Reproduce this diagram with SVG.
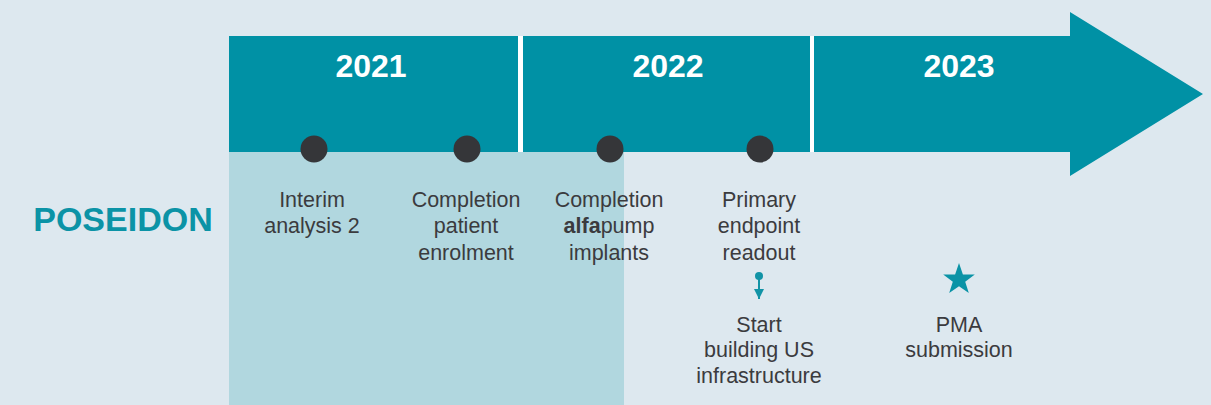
<svg xmlns="http://www.w3.org/2000/svg" width="1211" height="405" viewBox="0 0 1211 405">
<style>
.year{font-family:"Liberation Sans",Arial,sans-serif;font-weight:bold;font-size:32px;fill:#ffffff;text-anchor:middle}
.lbl{font-family:"Liberation Sans",Arial,sans-serif;font-size:21.5px;fill:#3b3b3e;text-anchor:middle}
.dot{fill:#353639}
.div{fill:#ffffff}
</style>
<defs>
<marker id="ah" viewBox="0 0 10 10" refX="10" refY="5" markerWidth="12" markerHeight="10" markerUnits="userSpaceOnUse" orient="auto">
<path d="M0,0 L10,5 L0,10 Z" fill="#1193a6"/>
</marker>
</defs>
<rect x="0" y="0" width="1211" height="405" fill="#dde8ef"/>
<rect id="highlight" x="229" y="152" width="395" height="253" fill="#b1d7df"/>
<g id="timeline-arrow">
<path d="M229,36 L1070,36 L1070,12 L1203,94 L1070,176 L1070,152 L229,152 Z" fill="#0091a5"/>
<rect class="div" x="518" y="36" width="5" height="116"/>
<rect class="div" x="810" y="36" width="4" height="116"/>
<text class="year" x="371" y="77">2021</text>
<text class="year" x="668" y="77">2022</text>
<text class="year" x="959" y="77">2023</text>
</g>
<text id="poseidon" x="123" y="231" font-family="'Liberation Sans',Arial,sans-serif" font-weight="bold" font-size="34" fill="#0b93a6" text-anchor="middle">POSEIDON</text>
<g id="m1">
<circle class="dot" cx="314" cy="149" r="13.5"/>
<text class="lbl" x="312" y="207">Interim</text>
<text class="lbl" x="312" y="233">analysis 2</text>
</g>
<g id="m2">
<circle class="dot" cx="467" cy="149" r="13.5"/>
<text class="lbl" x="466" y="207">Completion</text>
<text class="lbl" x="466" y="233">patient</text>
<text class="lbl" x="466" y="260">enrolment</text>
</g>
<g id="m3">
<circle class="dot" cx="610" cy="149" r="13.5"/>
<text class="lbl" x="609" y="207">Completion</text>
<text class="lbl" x="609" y="233"><tspan font-weight="bold">alfa</tspan>pump</text>
<text class="lbl" x="609" y="260">implants</text>
</g>
<g id="m4">
<circle class="dot" cx="760" cy="149" r="13.5"/>
<text class="lbl" x="759" y="207">Primary</text>
<text class="lbl" x="759" y="233">endpoint</text>
<text class="lbl" x="759" y="260">readout</text>
</g>
<g id="connectors">
<circle cx="759" cy="276" r="4" fill="#1193a6"/>
<line x1="759" y1="276" x2="759" y2="299" stroke="#1193a6" stroke-width="2" marker-end="url(#ah)"/>
</g>
<g id="m5">
<text class="lbl" x="759" y="332">Start</text>
<text class="lbl" x="759" y="357">building US</text>
<text class="lbl" x="759" y="383">infrastructure</text>
</g>
<g id="m6">
<polygon points="959,263 962.9,274.5 974.8,274.6 965.2,281.7 968.8,293.1 959,286.2 949.2,293.1 952.8,281.7 943.2,274.6 955.1,274.5" fill="#0b93a6"/>
<text class="lbl" x="959" y="332">PMA</text>
<text class="lbl" x="959" y="357">submission</text>
</g>
</svg>
